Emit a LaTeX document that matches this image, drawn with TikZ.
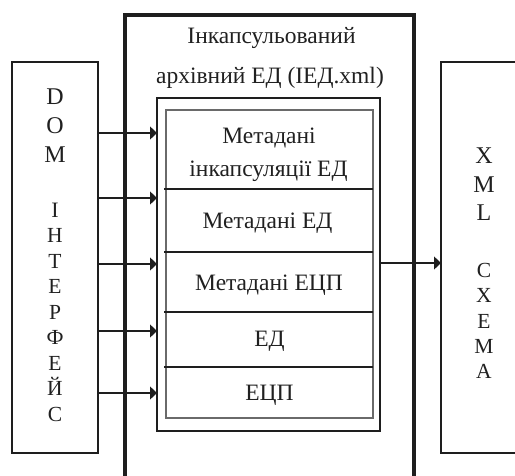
\documentclass[tikz,border=0pt]{standalone}
\usepackage{fontspec}
\setmainfont{Liberation Serif}
\usetikzlibrary{arrows.meta}
\definecolor{linec}{HTML}{1E1E1E}
\definecolor{framec}{HTML}{6A6A6A}
\definecolor{textc}{HTML}{202020}
\begin{document}
\begin{tikzpicture}[x=1pt,y=-1pt,
  box/.style={draw=linec, rectangle, inner sep=0pt, outer sep=0pt},
  arr/.style={draw=linec, line width=1.3pt, -{Triangle[length=7pt,width=13pt]}},
  sep/.style={draw=linec, line width=2pt},
  lbl/.style={text=textc, inner sep=0pt, anchor=base, font=\fontsize{23.5}{28}\selectfont},
  letter/.style={text=textc, inner sep=0pt, anchor=base}]
\useasboundingbox (0,0) rectangle (515,475);

% outer enclosure (its lower edge lies below the page)
\node[box, line width=4.5pt, minimum width=289pt, minimum height=505pt] (enc) at (269.5,267.5) {};
% DOM interface and XML schema blocks
\node[box, line width=2pt, minimum width=86pt, minimum height=391pt] (dom) at (55,257.5) {};
\node[box, line width=2pt, minimum width=99pt, minimum height=391pt] (xml) at (490.5,257.5) {};
% container of the archived document parts
\node[box, line width=2.3pt, minimum width=223pt, minimum height=333pt] (cont) at (268.5,264.5) {};
\node[box, draw=framec, line width=1.3pt, minimum width=207pt, minimum height=308pt] (stack) at (269.5,264) {};

% row separators
\foreach \yy [count=\i] in {189,252,312,367} {
  \coordinate (s\i) at (0,\yy);
  \draw[sep] ([xshift=-2pt]stack.west |- s\i) -- (stack.east |- s\i);
}

% title
\node[lbl] (t1) at (271.5,43) {Інкапсульований};
\node[lbl] (t2) at (270,83) {архівний ЕД (ІЕД.xml)};

% row texts
\node[lbl] (r1a) at (269,143) {Метадані};
\node[lbl] (r1b) at (268.5,176) {інкапсуляції ЕД};
\node[lbl] (r2) at (267.5,228) {Метадані ЕД};
\node[lbl] (r3) at (269,290) {Метадані ЕЦП};
\node[lbl] (r4) at (269.5,346) {ЕД};
\node[lbl] (r5) at (269.5,400) {ЕЦП};

% vertical labels
\foreach \ch/\yy/\sz [count=\i] in {D/104/24,O/133/24,M/162/24,І/217/22,Н/242.5/21.5,Т/268/21.5,Е/293.5/21.5,Р/319/21.5,Ф/344.5/21.5,Е/370/21.5,Й/395.5/21.5,С/421/21.5}
  \node[letter, font=\fontsize{\sz}{\sz}\selectfont] (dl\i) at (55,\yy) {\ch};
\foreach \ch/\yy/\sz [count=\i] in {X/163/24,M/192/24,L/220/24,С/277/21.5,Х/302/21.5,Е/328/21.5,М/353/21.5,А/378/21.5}
  \node[letter, font=\fontsize{\sz}{\sz}\selectfont] (xl\i) at (484,\yy) {\ch};

% connectors
\foreach \yy [count=\i] in {133,198,264,331,393} {
  \coordinate (a\i) at (0,\yy);
  \draw[arr] (dom.east |- a\i) -- (cont.west |- a\i);
}
\coordinate (b1) at (0,263);
\draw[arr] (cont.east |- b1) -- (xml.west |- b1);
\end{tikzpicture}
\end{document}
